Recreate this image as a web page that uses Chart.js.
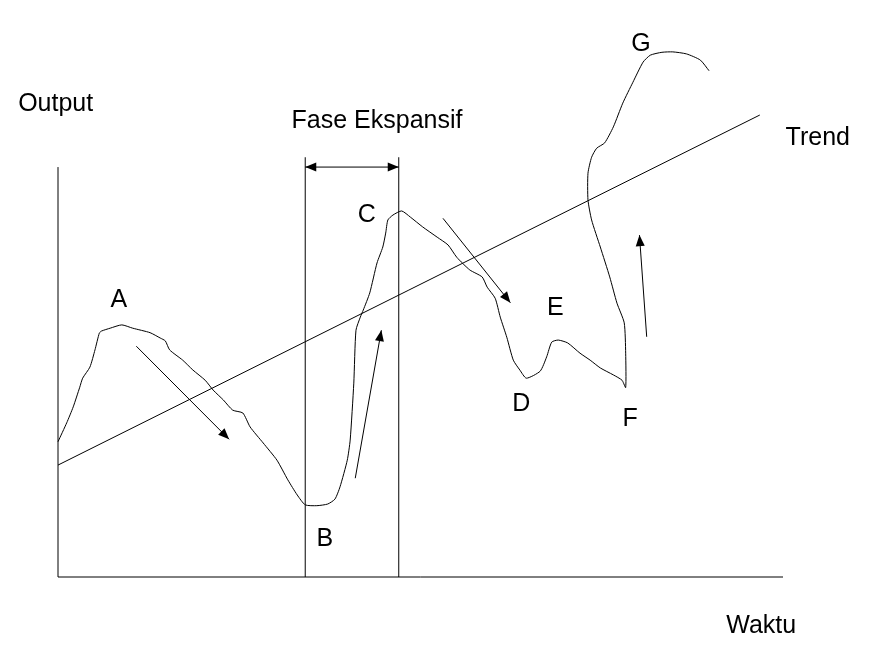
<!DOCTYPE html>
<html lang="id">
	<head>
		<meta charset="UTF-8" />
		<title>Siklus Bisnis</title>
		<script src="https://cdn.jsdelivr.net/npm/chart.js"></script>
		<style>
			body {
				margin: 0;
				padding: 0;
				background: #fff;
			}
		</style>
	</head>
	<body>
		<canvas id="chart" width="869" height="659"></canvas>
		<script>
			// business cycle curve (time, output)
			const cycleX = [
				0, 1.2, 2.1, 3.0, 3.4, 4.4, 5.1, 5.7, 6.0, 7.2, 8.8, 10.3, 12.7, 14.1, 14.8, 15.4,
				17.2, 18.6, 20.3, 21.4, 22.8, 24.1, 25.5, 26.5, 28.3, 30.2, 31.7, 33.0, 34.1, 35.7,
				37.2, 38.2, 38.9, 39.9, 40.3, 40.8, 41.1, 41.7, 42.1, 43.0, 44.0, 44.8, 45.2, 45.5,
				46.2, 47.4, 48.6, 50.3, 52.3, 53.8, 55.0, 56.8, 58.5, 59.2, 60.3, 61.0, 61.9, 62.8,
				63.7, 64.6, 66.5, 67.4, 68.1, 69.0, 70.3, 72.0, 73.4, 74.8, 76.6, 77.8, 78.3, 78.3,
				78.1, 77.1, 76.1, 74.8, 73.6, 73.1, 73.1, 73.6, 74.3, 75.4, 76.6, 77.9, 79.3, 80.7,
				81.7, 83.3, 84.8, 86.7, 88.6, 89.8
			];
			const cycleY = [
				33.0, 37.6, 41.5, 46.3, 48.5, 51.2, 55.4, 59.5, 60.0, 60.7, 61.5, 60.7, 59.6, 58.3, 57.6, 55.4,
				52.9, 50.5, 48.0, 45.6, 43.2, 40.7, 40.0, 36.6, 32.7, 28.5, 23.7, 20.0, 17.6, 17.4,
				17.8, 19.0, 22.0, 28.5, 33.4, 47.3, 60.2, 63.4, 65.1, 69.3, 76.6, 80.5, 83.9, 87.1,
				88.3, 89.3, 87.8, 85.4, 82.9, 81.0, 78.0, 74.9, 73.2, 70.7, 68.0, 63.4, 58.5, 52.9,
				50.5, 48.5, 50.2, 53.7, 57.3, 57.8, 57.1, 54.6, 52.9, 51.0, 49.3, 48.0, 46.2, 54.6,
				62.0, 66.8, 73.2, 80.5, 87.1, 92.0, 98.5, 102.4, 104.6, 105.9, 109.8, 115.6, 120.7, 125.6,
				127.3, 128.0, 128.1, 127.6, 126.1, 123.5
			];

			// trend line ends
			const trendX = [0, 96.8];
			const trendY = [27.3, 112.7];

			// expansion phase boundaries (B to C)
			const phaseX = [34.1, 47.0];
			const phaseTop = 102.4;
			const phaseArrowY = 100;

			// direction arrows [x0, y0, x1, y1]
			const arrows = [
				[10.8, 56.3, 23.6, 33.6],
				[41.0, 24.1, 44.6, 60.2],
				[53.1, 87.5, 62.4, 66.9],
				[81.2, 58.6, 80.2, 83.4]
			];

			// axis lengths
			const axisXMax = 100;
			const axisYMax = 100;

			// text labels [text, x, y, align]
			const labels = [
				["A", 8.4, 67.5, "center"],
				["B", 36.8, 9.3, "center"],
				["C", 42.6, 88.3, "center"],
				["D", 63.9, 42.2, "center"],
				["E", 68.6, 65.6, "center"],
				["F", 78.9, 38.5, "center"],
				["G", 80.4, 130.0, "center"],
				["Output", -5.5, 115.4, "left"],
				["Fase Ekspansif", 44.0, 111.2, "center"],
				["Trend", 104.8, 107.1, "center"],
				["Waktu", 97.0, -12.0, "center"]
			];

			const pts = (xs, ys) => xs.map((x, i) => ({ x: x, y: ys[i] }));

			const line = (data, extra) =>
				Object.assign(
					{
						data: data,
						showLine: true,
						borderColor: "#000",
						borderWidth: 1,
						pointRadius: 0,
						tension: 0,
						clip: false
					},
					extra || {}
				);

			const datasets = [
				line(pts(cycleX, cycleY), { tension: 0.2 }),
				line(pts(trendX, trendY)),
				line([{ x: 0, y: 0 }, { x: 0, y: axisYMax }]),
				line([{ x: 0, y: 0 }, { x: axisXMax, y: 0 }]),
				line([{ x: phaseX[0], y: 0 }, { x: phaseX[0], y: phaseTop }]),
				line([{ x: phaseX[1], y: 0 }, { x: phaseX[1], y: phaseTop }]),
				line([{ x: phaseX[0], y: phaseArrowY }, { x: phaseX[1], y: phaseArrowY }], { arrow: "both" })
			];
			arrows.forEach((a) => {
				datasets.push(line([{ x: a[0], y: a[1] }, { x: a[2], y: a[3] }], { arrow: "end" }));
			});

			function head(ctx, from, to) {
				const ang = Math.atan2(to.y - from.y, to.x - from.x);
				const len = 11, half = 4.5;
				ctx.save();
				ctx.translate(to.x, to.y);
				ctx.rotate(ang);
				ctx.beginPath();
				ctx.moveTo(0, 0);
				ctx.lineTo(-len, -half);
				ctx.lineTo(-len, half);
				ctx.closePath();
				ctx.fillStyle = "#000";
				ctx.fill();
				ctx.restore();
			}

			const decorations = {
				id: "decorations",
				afterDatasetsDraw(chart) {
					const ctx = chart.ctx;
					chart.data.datasets.forEach((ds, i) => {
						if (!ds.arrow) return;
						const pts = chart.getDatasetMeta(i).data;
						head(ctx, pts[0], pts[1]);
						if (ds.arrow === "both") head(ctx, pts[1], pts[0]);
					});
					const sx = chart.scales.x, sy = chart.scales.y;
					ctx.save();
					ctx.fillStyle = "#000";
					ctx.font = '25px "Liberation Sans", Arial, sans-serif';
					ctx.textBaseline = "middle";
					labels.forEach((l) => {
						ctx.textAlign = l[3];
						ctx.fillText(l[0], sx.getPixelForValue(l[1]), sy.getPixelForValue(l[2]));
					});
					ctx.restore();
				}
			};

			new Chart(document.getElementById("chart"), {
				type: "scatter",
				data: { datasets: datasets },
				options: {
					responsive: false,
					animation: false,
					layout: { padding: { left: 58, right: 86, top: 40, bottom: 82 } },
					scales: {
						x: { type: "linear", min: 0, max: 100, display: false },
						y: { type: "linear", min: 0, max: 131, display: false }
					},
					plugins: {
						legend: { display: false },
						tooltip: { enabled: false }
					}
				},
				plugins: [decorations]
			});
		</script>
	</body>
</html>
